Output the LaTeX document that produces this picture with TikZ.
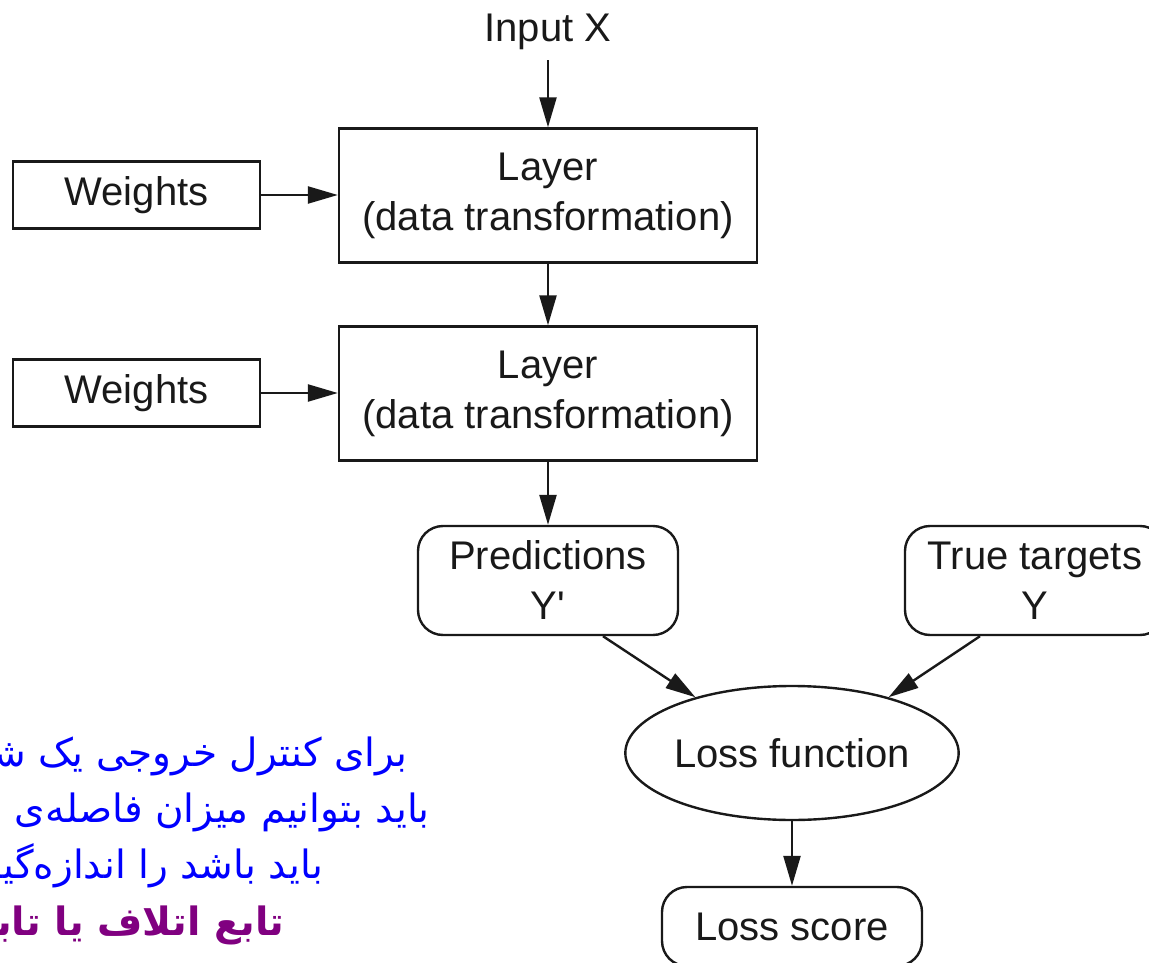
\documentclass[tikz,border=0pt]{standalone}
\usepackage{fontspec}
\setmainfont{Liberation Sans}
\newfontfamily\plainsans{Liberation Sans}
\newfontfamily\fafont[Script=Arabic]{DejaVu Sans}
\TeXXeTstate=1
\usetikzlibrary{shapes.geometric,arrows.meta}
\definecolor{faBlue}{RGB}{0,0,255}
\definecolor{faPurple}{RGB}{128,0,128}
\definecolor{ink}{RGB}{25,25,25}
\begin{document}
\begin{tikzpicture}[x=1pt,y=-1pt,
  every node/.style={font=\plainsans\fontsize{40}{50}\selectfont, text=ink},
  box/.style={draw=ink, line width=2.4pt, inner sep=0pt, align=center},
  rbox/.style={box, rounded corners=25pt},
  ellbox/.style={box, ellipse},
  arr/.style={draw=ink, line width=2.4pt, -{Triangle[length=30pt,width=17pt]}},
  fa/.style={anchor=base east, inner sep=0pt, text=faBlue, font=\fafont\fontsize{39}{46}\selectfont},
  fab/.style={fa, text=faPurple, font=\fafont\bfseries\fontsize{39}{46}\selectfont}]
\useasboundingbox (0,0) rectangle (1149,963);
% main chain
\node[inner sep=0pt] (inp) at (548,32) {Input X};
\node[box, minimum width=418pt, minimum height=134pt] (L1) at (548,195.5) {Layer\\(data transformation)};
\node[box, minimum width=418pt, minimum height=134pt] (L2) at (548,393.5) {Layer\\(data transformation)};
\node[box, minimum width=247pt, minimum height=67pt] (W1) at (136.5,195) {Weights};
\node[box, minimum width=247pt, minimum height=67pt] (W2) at (136.5,393) {Weights};
\node[rbox, minimum width=260pt, minimum height=109pt] (pred) at (548,580.5) {Predictions\\Y'};
\node[rbox, minimum width=260pt, minimum height=109pt] (true) at (1035,580.5) {True targets\\Y};
\node[ellbox, minimum width=332pt, minimum height=134pt] (loss) at (792,753) {Loss function};
\node[rbox, minimum width=260pt, minimum height=79pt] (score) at (792,926.5) {Loss score};
% connectors
\draw[arr, shorten <=10pt] (inp.south) -- (L1.north);
\draw[arr] (W1.east) -- (W1.east -| L1.west);
\draw[arr] (W2.east) -- (W2.east -| L2.west);
\draw[arr] (L1.south) -- (L2.north);
\draw[arr] (L2.south) -- (pred.north);
\draw[arr] ([xshift=55pt]pred.south) -- (loss.150);
\draw[arr] ([xshift=-55pt]true.south) -- (loss.30);
\draw[arr] (loss.south) -- (score.north);
% Persian text (clipped at the left edge, as in the reference)
\node[fa] (fa1) at (408,766) {\beginR برای کنترل خروجی یک شبکه‌ی عصبی،\endR};
\node[fa] (fa2) at (430,822) {\beginR باید بتوانیم میزان فاصله‌ی این خروجی با آنچه\endR};
\node[fa] (fa3) at (323,878) {\beginR باید باشد را اندازه‌گیری کنیم. این کار\endR};
\node[fab] (fa4) at (285,935) {\beginR تابع اتلاف یا تابع هدف\endR};
\end{tikzpicture}
\end{document}
